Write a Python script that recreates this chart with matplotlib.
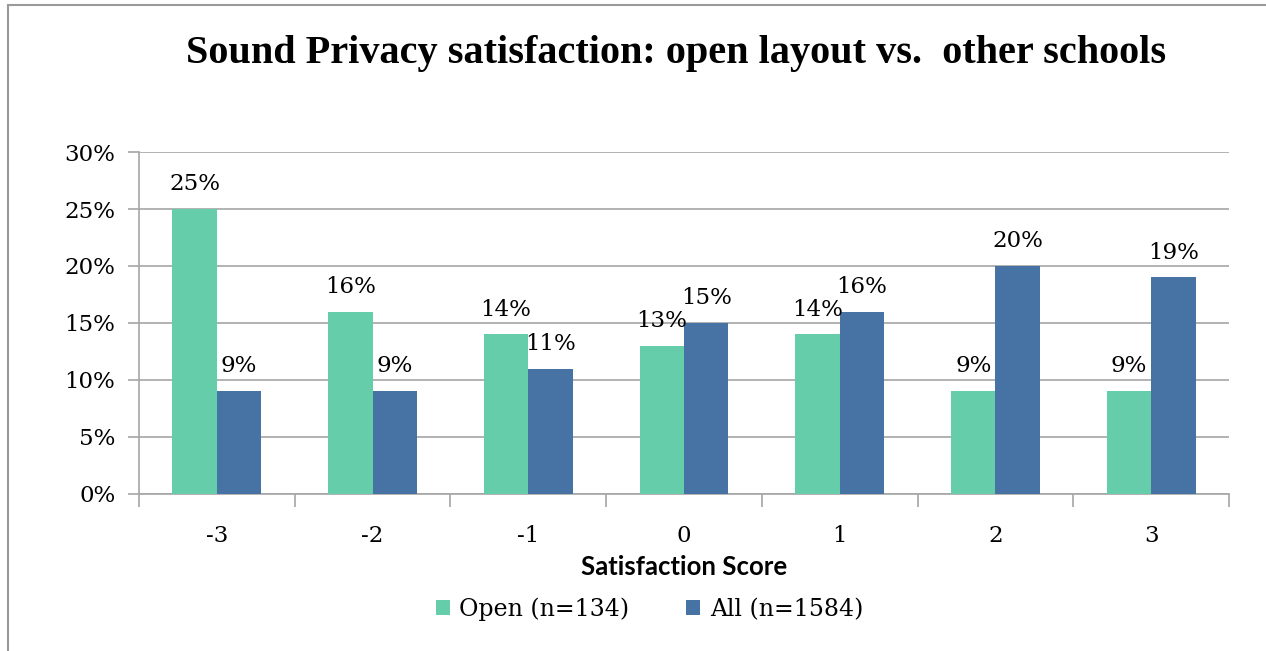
import matplotlib.pyplot as plt
import numpy as np
from matplotlib.patches import Rectangle

# data
scores = ["-3", "-2", "-1", "0", "1", "2", "3"]
open_pct = [25, 16, 14, 13, 14, 9, 9]
all_pct = [9, 9, 11, 15, 16, 20, 19]
series_names = ["Open (n=134)", "All (n=1584)"]
yticks = [0, 5, 10, 15, 20, 25, 30]

green = "#66CDAA"
blue = "#4673A3"
grid_col = "#A6A6A6"

plt.rcParams['font.family'] = ['DejaVu Serif']

fig = plt.figure(figsize=(12.66, 6.51), dpi=100)
ax = fig.add_axes([0.1098, 0.2412, 0.861, 0.5253])

x = np.arange(len(scores))
w = 0.285
b1 = ax.bar(x - w / 2, open_pct, w, color=green, label=series_names[0], zorder=3)
b2 = ax.bar(x + w / 2, all_pct, w, color=blue, label=series_names[1], zorder=3)

for bars, vals in [(b1, open_pct), (b2, all_pct)]:
    for r, v in zip(bars, vals):
        ax.annotate(f"{v}%", (r.get_x() + r.get_width() / 2, v),
                    xytext=(0, 10), textcoords="offset points",
                    ha="center", va="bottom", fontsize=16.5)

ax.set_xlim(-0.5, len(scores) - 0.5)
ax.set_ylim(0, 30)
ax.set_yticks(yticks)
ax.set_yticklabels([f"{t}%" for t in yticks], fontsize=16.5)
ax.yaxis.grid(True, color=grid_col, linewidth=1.2, zorder=0)

# category ticks sit between groups
ax.set_xticks(x)
ax.set_xticklabels(scores, fontsize=16.5)
ax.set_xticks(np.arange(-0.5, len(scores)), minor=True)
ax.tick_params(axis="x", which="major", length=0, pad=22)
ax.tick_params(axis="x", which="minor", length=9, color=grid_col, width=1.2)
ax.tick_params(axis="y", length=8, color=grid_col, width=1.2, pad=9)

for s in ["top", "right"]:
    ax.spines[s].set_visible(False)
for s in ["left", "bottom"]:
    ax.spines[s].set_color(grid_col)
    ax.spines[s].set_linewidth(1.2)

ax.set_xlabel("Satisfaction Score", fontsize=18.5, fontweight="bold",
              family=["Lato", "DejaVu Sans"], labelpad=6)

fig.text(0.534, 0.918, "Sound Privacy satisfaction: open layout vs.  other schools",
         ha="center", va="center", fontsize=29, fontweight="bold",
         family=["Liberation Serif", "DejaVu Serif"])

fig.legend(handles=[b1, b2], labels=series_names, loc="center",
           bbox_to_anchor=(0.513, 0.064), ncol=2, frameon=False, fontsize=17,
           handlelength=0.6, handleheight=0.6, handletextpad=0.4, columnspacing=2.4)

# outer chart frame (only left and top edges visible)
fig.patches.append(Rectangle((8 / 1266, -0.1), 1.2, (646 + 65) / 651,
                             transform=fig.transFigure, fill=False,
                             edgecolor="#9A9A9A", linewidth=1.5))

fig.savefig("out.png", dpi=100)
